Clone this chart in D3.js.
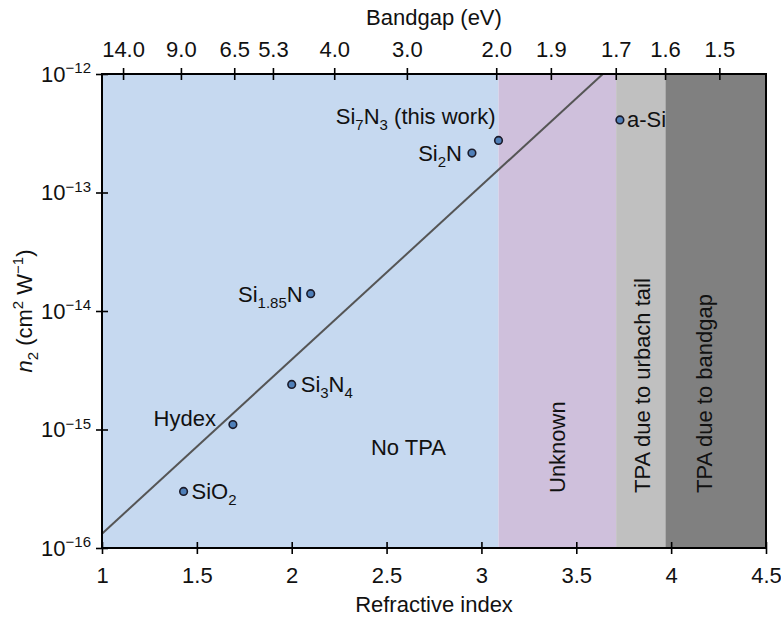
<!DOCTYPE html>
<html>
<head>
<meta charset="utf-8">
<script src="https://cdn.jsdelivr.net/npm/d3@7"></script>
<style>
  body { margin: 0; background: #fff; }
  text { font-family: "Liberation Sans", Arial, sans-serif; fill: #111; }
</style>
</head>
<body>
<div id="chart"></div>
<script>
const MARGIN = { LEFT: 102, RIGHT: 15, TOP: 74, BOTTOM: 71 };
const WIDTH = 781 - MARGIN.LEFT - MARGIN.RIGHT;
const HEIGHT = 619 - MARGIN.TOP - MARGIN.BOTTOM;
const FS = "22px";

// materials: refractive index, n2 (cm^2/W); "{x}" = subscript
const materials = ["SiO{2}", "Hydex", "Si{3}N{4}", "Si{1.85}N", "Si{2}N", "Si{7}N{3} (this work)", "a-Si"];
const refIndex = [1.43, 1.69, 2.0, 2.1, 2.95, 3.09, 3.73];
const n2Values = [3.0e-16, 1.1e-15, 2.4e-15, 1.4e-14, 2.15e-13, 2.75e-13, 4.1e-13];

// trend line end points
const fitIndex = [1.0, 3.64];
const fitN2 = [1.32e-16, 1e-12];

// shaded regions
const regionNames = ["No TPA", "Unknown", "TPA due to urbach tail", "TPA due to bandgap"];
const regionStart = [1.0, 3.09, 3.71, 3.97];
const regionEnd = [3.09, 3.71, 3.97, 4.5];
const regionColors = ["#c6d9f0", "#cfc0dc", "#c0c0c0", "#808080"];

// axes
const xTicks = [1, 1.5, 2, 2.5, 3, 3.5, 4, 4.5];
const yTicks = [1e-16, 1e-15, 1e-14, 1e-13, 1e-12];
const bandgapLabels = ["14.0", "9.0", "6.5", "5.3", "4.0", "3.0", "2.0", "1.9", "1.7", "1.6", "1.5"];
const bandgapIndex = [1.111, 1.416, 1.697, 1.901, 2.224, 2.607, 3.078, 3.366, 3.708, 3.968, 4.254];

const svg = d3
  .select("#chart")
  .append("svg")
  .attr("width", 781)
  .attr("height", 619);

const g = svg
  .append("g")
  .attr("transform", `translate(${MARGIN.LEFT}, ${MARGIN.TOP})`);

const x = d3.scaleLinear().domain([1, 4.5]).range([0, WIDTH]);
const y = d3.scaleLog().domain([1e-16, 1e-12]).range([HEIGHT, 0]);

// regions
g.selectAll("rect.region")
  .data(regionNames)
  .enter()
  .append("rect")
  .attr("class", "region")
  .attr("x", (d, i) => x(regionStart[i]))
  .attr("y", 0)
  .attr("width", (d, i) => x(regionEnd[i]) - x(regionStart[i]))
  .attr("height", HEIGHT)
  .attr("fill", (d, i) => regionColors[i]);

// region labels
g.append("text")
  .attr("x", x(2.615))
  .attr("y", 381)
  .attr("font-size", FS)
  .attr("text-anchor", "middle")
  .text(regionNames[0]);

const vertLabelX = [3.44, 3.889, 4.216];
vertLabelX.forEach((v, i) => {
  g.append("text")
    .attr("transform", `translate(${x(v)}, 419) rotate(-90)`)
    .attr("font-size", FS)
    .attr("text-anchor", "start")
    .text(regionNames[i + 1]);
});

// trend line
const line = d3
  .line()
  .x((d) => x(d[0]))
  .y((d) => y(d[1]));

g.append("path")
  .datum(fitIndex.map((v, i) => [v, fitN2[i]]))
  .attr("d", line)
  .attr("fill", "none")
  .attr("stroke", "#555")
  .attr("stroke-width", 2);

// points
g.selectAll("circle.pt")
  .data(materials)
  .enter()
  .append("circle")
  .attr("class", "pt")
  .attr("cx", (d, i) => x(refIndex[i]))
  .attr("cy", (d, i) => y(n2Values[i]))
  .attr("r", 3.8)
  .attr("fill", "#4f7fb8")
  .attr("stroke", "#1b1b2a")
  .attr("stroke-width", 1.6);

// labels: [dx, dy, anchor]
const labelOffsets = [
  [8, 8, "start"],
  [-17, 1, "end"],
  [9, 8, "start"],
  [-8, 8, "end"],
  [-10, 8, "end"],
  [-3, -16, "end"],
  [7, 7, "start"],
];

function richText(sel, str, subSize, shift) {
  const parts = str.split(/(\{[^}]*\})/).filter((p) => p.length);
  let lifted = false;
  parts.forEach((p) => {
    if (p[0] === "{") {
      sel.append("tspan").attr("font-size", subSize).attr("dy", shift).text(p.slice(1, -1));
      lifted = true;
    } else {
      const t = sel.append("tspan").text(p);
      if (lifted) t.attr("dy", -shift);
      lifted = false;
    }
  });
}

materials.forEach((m, i) => {
  const o = labelOffsets[i];
  const t = g
    .append("text")
    .attr("x", x(refIndex[i]) + o[0])
    .attr("y", y(n2Values[i]) + o[1])
    .attr("font-size", FS)
    .attr("text-anchor", o[2]);
  richText(t, m, "15px", 6);
});

// bottom axis
const xAxisGroup = g
  .append("g")
  .attr("transform", `translate(0, ${HEIGHT})`)
  .call(d3.axisBottom(x).tickValues(xTicks).tickFormat((d) => String(d)).tickSize(6).tickPadding(13).tickSizeOuter(0));

// top axis
const topScale = d3.scaleLinear().domain([1, 4.5]).range([0, WIDTH]);
const topAxisGroup = g
  .append("g")
  .call(
    d3
      .axisTop(topScale)
      .tickValues(bandgapIndex)
      .tickFormat((d, i) => bandgapLabels[i])
      .tickSize(6)
      .tickPadding(11)
      .tickSizeOuter(0)
  );

// left axis
const yAxisGroup = g
  .append("g")
  .call(d3.axisLeft(y).tickValues(yTicks).tickSize(6).tickPadding(5).tickSizeOuter(0));

yAxisGroup.selectAll(".tick text").each(function (d) {
  const t = d3.select(this);
  t.text(null);
  t.append("tspan").text("10");
  t.append("tspan")
    .attr("font-size", "15px")
    .attr("dy", "-0.55em")
    .text("\u2212" + Math.round(-Math.log10(d)));
});

[xAxisGroup, topAxisGroup].forEach((ax) => {
  ax.selectAll(".tick line").attr("y1", -6).attr("y2", 6);
});
yAxisGroup.selectAll(".tick line").attr("x1", -6).attr("x2", 6);

[xAxisGroup, topAxisGroup, yAxisGroup].forEach((ax) => {
  ax.selectAll(".tick line").attr("stroke", "#000").attr("stroke-width", 1.6);
  ax.selectAll(".tick text").attr("font-size", FS).attr("fill", "#111").attr("font-family", null);
  ax.select(".domain").remove();
});

// frame
g.append("rect")
  .attr("width", WIDTH)
  .attr("height", HEIGHT)
  .attr("fill", "none")
  .attr("stroke", "#000")
  .attr("stroke-width", 2);

// axis titles
g.append("text")
  .attr("x", WIDTH / 2)
  .attr("y", HEIGHT + 64)
  .attr("font-size", FS)
  .attr("text-anchor", "middle")
  .text("Refractive index");

g.append("text")
  .attr("x", WIDTH / 2)
  .attr("y", -49)
  .attr("font-size", FS)
  .attr("text-anchor", "middle")
  .text("Bandgap (eV)");

const yLabel = g
  .append("text")
  .attr("transform", `translate(-70, ${HEIGHT / 2}) rotate(-90)`)
  .attr("font-size", FS)
  .attr("text-anchor", "middle");
yLabel.append("tspan").attr("font-style", "italic").text("n");
yLabel.append("tspan").attr("font-size", "15px").attr("dy", 6).text("2");
yLabel.append("tspan").attr("dy", -6).text(" (cm");
yLabel.append("tspan").attr("font-size", "15px").attr("dy", -9).text("2");
yLabel.append("tspan").attr("dy", 9).text("  W");
yLabel.append("tspan").attr("font-size", "15px").attr("dy", -9).text("\u22121");
yLabel.append("tspan").attr("dy", 9).text(")");
</script>
</body>
</html>
